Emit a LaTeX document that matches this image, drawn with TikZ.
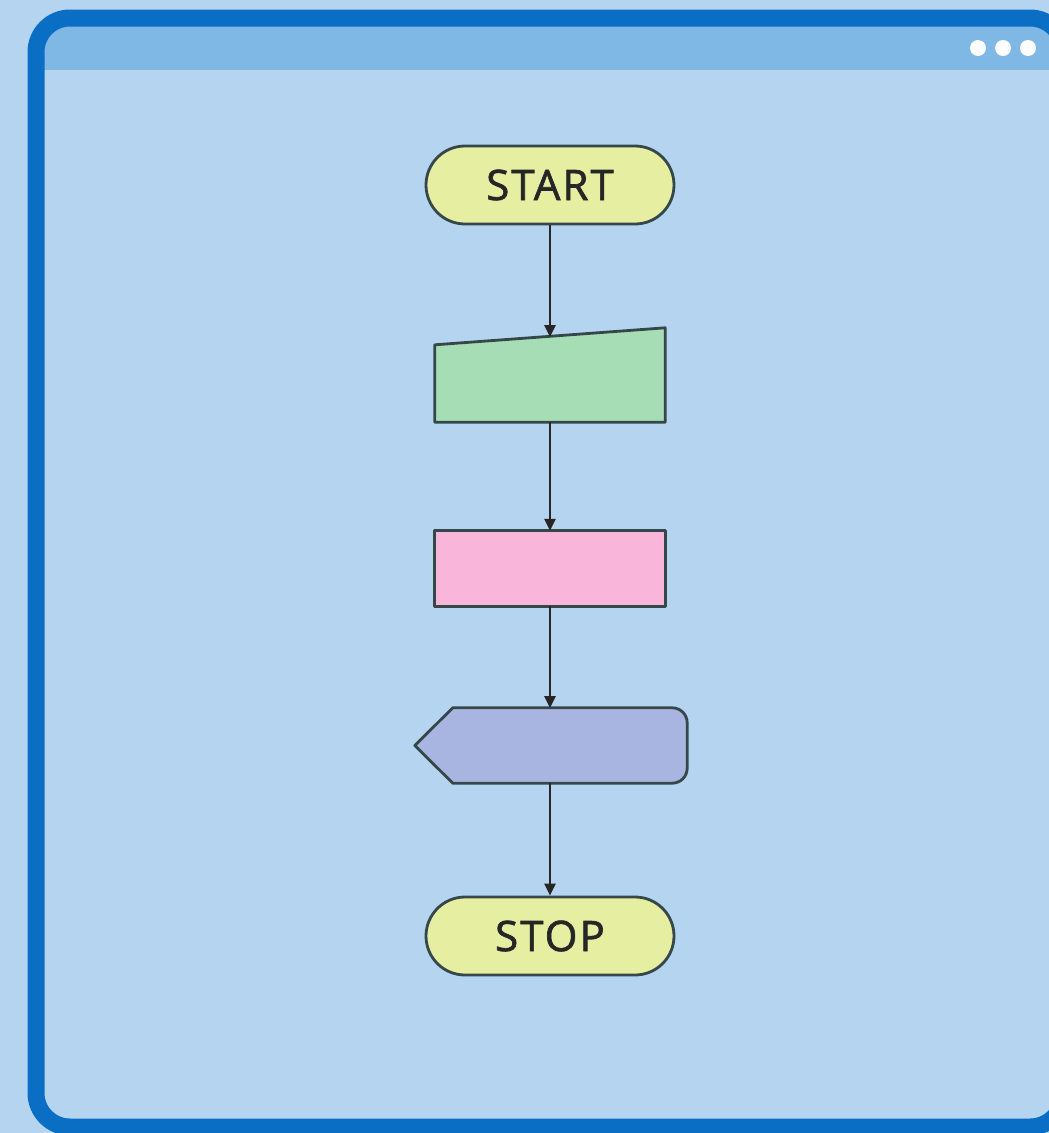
\documentclass[tikz,border=0pt]{standalone}
\usepackage{fontspec}
\setmainfont{Open Sans}[FakeBold=1.6,LetterSpace=5]
\usetikzlibrary{arrows.meta,calc}
\definecolor{bgblue}{HTML}{B4D4EF}
\definecolor{frameblue}{HTML}{0A6FC4}
\definecolor{headblue}{HTML}{7FB8E5}
\definecolor{termfill}{HTML}{E6EEA2}
\definecolor{inpfill}{HTML}{A6DDB5}
\definecolor{procfill}{HTML}{F9B6DA}
\definecolor{dispfill}{HTML}{A9B5E1}
\definecolor{edgegrey}{HTML}{36474A}
\definecolor{inkdark}{HTML}{262626}
\tikzset{
  terminal/.style={draw=edgegrey, line width=2.8pt, fill=termfill, rounded corners=39pt,
    minimum width=248pt, minimum height=78pt, inner sep=0pt, font=\fontsize{42}{45}\selectfont, text=inkdark},
  ghost/.style={draw=none, minimum width=230pt, inner sep=0pt},
  shapeline/.style={draw=edgegrey, line width=2.8pt, line join=round},
  flow/.style={draw=inkdark, line width=2.6pt, -{Triangle[length=12pt,width=11pt]}},
  dot/.style={circle, fill=white, minimum size=16pt, inner sep=0pt, draw=none}
}
\begin{document}
\begin{tikzpicture}[x=1pt,y=-1pt]
\useasboundingbox (0,0) rectangle (1049,1133);
\fill[bgblue] (0,0) rectangle (1049,1133);
% window frame
\begin{scope}
\clip (0,0) rectangle (1049,1133);
\fill[headblue] (40,26) rectangle (1070,70);
\draw[frameblue, line width=17pt, rounded corners=34pt] (36,18) rectangle (1064,1127);
\end{scope}
\node[dot] (d1) at (978,48) {};
\node[dot] (d2) at (1003,48) {};
\node[dot] (d3) at (1028,48) {};
% nodes
\node[terminal] (start) at (550,185) {START};
\node[ghost, minimum height=94pt] (inp) at (550,375) {};
\node[ghost, minimum height=75pt] (proc) at (550,568.5) {};
\node[ghost, minimum width=272pt, minimum height=75pt] (disp) at (551,745.5) {};
\node[terminal] (stop) at (550,936) {STOP};
% manual input shape
\draw[shapeline, fill=inpfill] (inp.south west) -- (inp.south east) -- (inp.north east) -- ($(inp.north west)+(0,17)$) -- cycle;
\coordinate (inptop) at (550,337);
% process
\draw[shapeline, fill=procfill] (proc.south west) rectangle (proc.north east);
% display
\coordinate (dA) at ($(disp.north west)+(38,0)$);
\coordinate (dB) at ($(disp.south west)+(38,0)$);
\coordinate (dtop) at (550,708);
\coordinate (dbot) at (550,783);
\draw[shapeline, fill=dispfill] (dA) [rounded corners=15pt] -- (disp.north east) -- (disp.south east) [sharp corners] -- (dB) -- (disp.west) -- cycle;
% connectors
\draw[flow] (start.south) -- (inptop);
\draw[flow] (inp.south) -- (proc.north);
\draw[flow] (proc.south) -- (dtop);
\draw[flow] (dbot) -- (stop.north);
\end{tikzpicture}
\end{document}
